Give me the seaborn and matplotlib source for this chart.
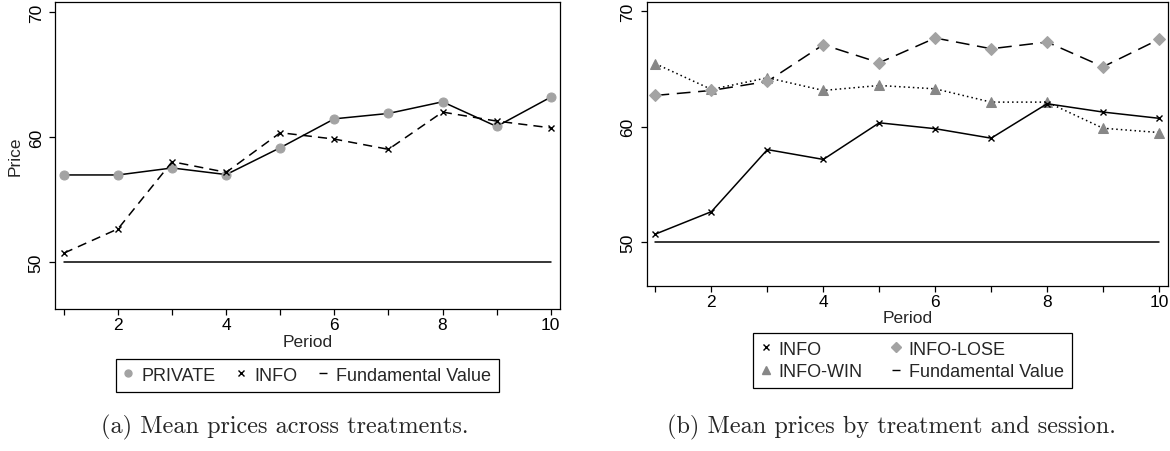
import matplotlib
matplotlib.use("Agg")
import matplotlib.pyplot as plt
from matplotlib.lines import Line2D
import pandas as pd
import seaborn as sns

# mean prices per period
period = [1, 2, 3, 4, 5, 6, 7, 8, 9, 10]
private = [56.97, 56.97, 57.53, 57.0, 59.15, 61.46, 61.89, 62.82, 60.85, 63.19]
info = [50.72, 52.66, 58.03, 57.18, 60.35, 59.84, 59.02, 62.0, 61.28, 60.74]
info_lose = [62.72, 63.15, 63.93, 67.11, 65.55, 67.69, 66.76, 67.34, 65.2, 67.57]
info_win = [65.46, 63.24, 64.25, 63.15, 63.58, 63.29, 62.14, 62.14, 59.88, 59.51]
fundamental = [50] * 10

yticks = [50, 60, 70]
captions = ["(a) Mean prices across treatments.", "(b) Mean prices by treatment and session."]

df = pd.DataFrame({
    "period": period,
    "PRIVATE": private,
    "INFO": info,
    "INFO-LOSE": info_lose,
    "INFO-WIN": info_win,
    "Fundamental Value": fundamental,
})

sns.set_style("ticks", {"axes.edgecolor": "black", "xtick.color": "black", "ytick.color": "black"})
plt.rcParams["font.family"] = ["Liberation Sans", "DejaVu Sans"]
plt.rcParams["font.size"] = 12.5

light = "#a3a3a3"
dark = "#878787"

fig = plt.figure(figsize=(11.7, 4.52), dpi=100)
ax1 = fig.add_axes([0.0468, 0.3142, 0.4322, 0.6785])
ax2 = fig.add_axes([0.5526, 0.3657, 0.4461, 0.627])

# panel (a)
sns.lineplot(data=df, x="period", y="Fundamental Value", color="black", lw=1.1, ax=ax1)
sns.lineplot(data=df, x="period", y="PRIVATE", color="black", lw=1.1, marker="o",
             markersize=6.5, markerfacecolor=light, markeredgecolor=light, ax=ax1)
sns.lineplot(data=df, x="period", y="INFO", color="black", lw=1.1, linestyle=(0, (6, 4)),
             marker="x", markersize=4, markeredgecolor="black", markeredgewidth=1.0, ax=ax1)

# panel (b)
sns.lineplot(data=df, x="period", y="Fundamental Value", color="black", lw=1.1, ax=ax2)
sns.lineplot(data=df, x="period", y="INFO-WIN", color="black", lw=1.1, linestyle=(0, (1, 2)),
             marker="^", markersize=7.5, markerfacecolor=dark, markeredgecolor=dark, ax=ax2)
sns.lineplot(data=df, x="period", y="INFO-LOSE", color="black", lw=1.1, linestyle=(0, (9, 5)),
             marker="D", markersize=6.5, markerfacecolor=light, markeredgecolor=light, ax=ax2)
sns.lineplot(data=df, x="period", y="INFO", color="black", lw=1.1,
             marker="x", markersize=4, markeredgecolor="black", markeredgewidth=1.0, ax=ax2)

for ax, xl in [(ax1, (0.83, 10.18)), (ax2, (0.84, 10.17))]:
    ax.set_xlim(*xl)
    ax.set_ylim(46.25, 70.78)
    ax.set_xticks(period)
    ax.set_xticklabels([str(p) if p % 2 == 0 else "" for p in period])
    ax.set_yticks(yticks)
    ax.tick_params(axis="both", length=4, width=0.9, labelsize=12.5)
    ax.tick_params(axis="x", pad=2)
    ax.tick_params(axis="y", pad=4, labelrotation=90)
    for t in ax.get_yticklabels():
        t.set_va("center")
    for s in ax.spines.values():
        s.set_linewidth(0.9)
    ax.set_xlabel("Period", fontsize=12.5, labelpad=1)
    ax.set_ylabel("")

ax1.set_ylabel("Price", fontsize=12.5, labelpad=4)

h_private = Line2D([], [], ls="none", marker="o", markersize=5, color=light)
h_info = Line2D([], [], ls="none", marker="x", markersize=4, color="black", markeredgewidth=1.0)
h_lose = Line2D([], [], ls="none", marker="D", markersize=5, color=light)
h_win = Line2D([], [], ls="none", marker="^", markersize=5.5, color=dark)
h_fund = Line2D([], [], ls="none", marker="_", markersize=6, color="black", markeredgewidth=1.0)

leg_kw = dict(loc="center", frameon=True, fancybox=False, edgecolor="black", framealpha=1,
              fontsize=13, handlelength=0.5, handletextpad=0.45, borderpad=0.45)

leg1 = fig.legend([h_private, h_info, h_fund], ["PRIVATE", "INFO", "Fundamental Value"],
                  bbox_to_anchor=(307.5 / 1170, 1 - 376.3 / 452), ncol=3, columnspacing=1.2, **leg_kw)
leg2 = fig.legend([h_info, h_win, h_lose, h_fund], ["INFO", "INFO-WIN", "INFO-LOSE", "Fundamental Value"],
                  bbox_to_anchor=(912.5 / 1170, 1 - 361.5 / 452), ncol=2, columnspacing=1.6,
                  labelspacing=0.3, **leg_kw)
for leg in (leg1, leg2):
    leg.get_frame().set_linewidth(0.9)

fig.text(285 / 1170, 1 - 427 / 452, captions[0], family="cmr10", fontsize=17.5, ha="center", va="center")
fig.text(891 / 1170, 1 - 427 / 452, captions[1], family="cmr10", fontsize=17.5, ha="center", va="center")

fig.savefig("out.png", dpi=100)
